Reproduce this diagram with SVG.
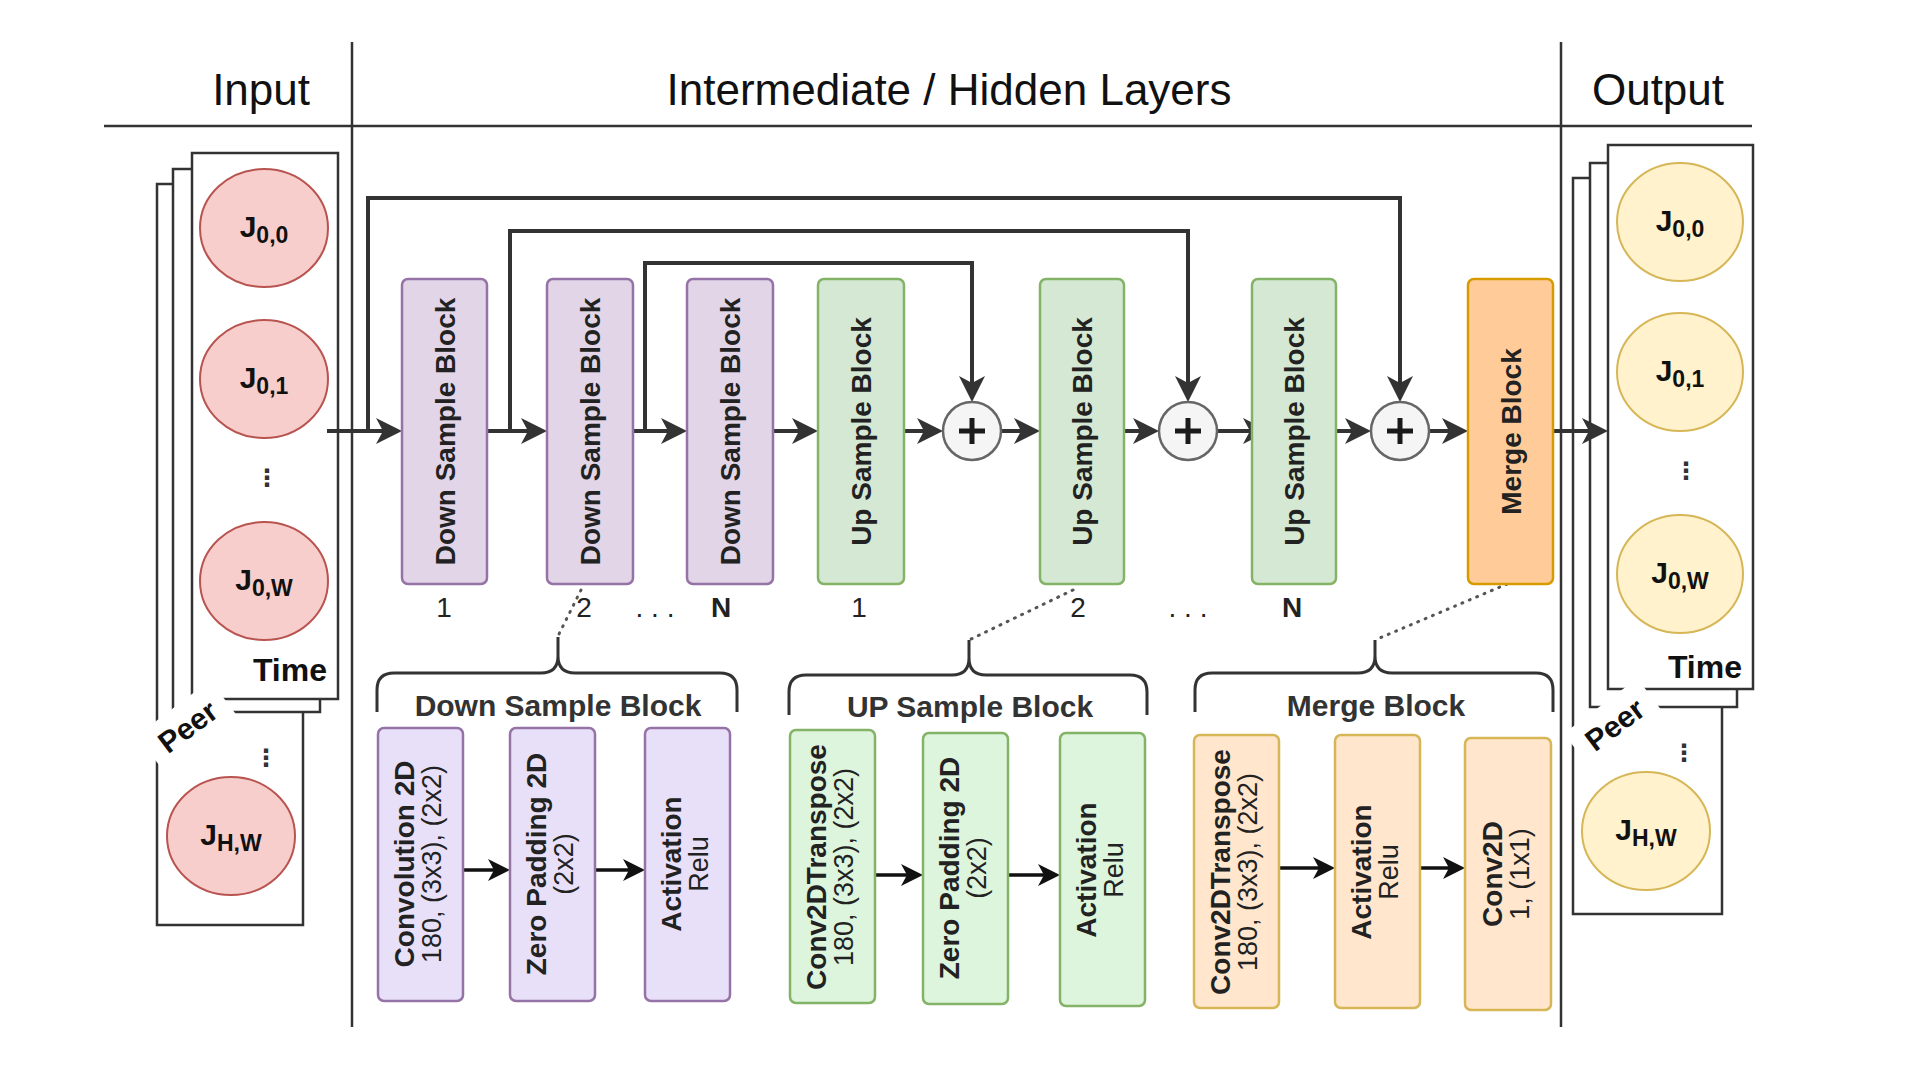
<svg xmlns="http://www.w3.org/2000/svg" width="1924" height="1076" viewBox="0 0 1924 1076">
<defs>
<style>
text{font-family:"Liberation Sans",Arial,Helvetica,sans-serif;fill:#222}
.hdr{font-size:44px;fill:#111}
.lbl{font-size:28px;font-weight:bold;text-anchor:middle}
.bl{font-size:28px;font-weight:bold;text-anchor:middle}
.rg{font-size:27px;text-anchor:middle}
.num{font-size:28px;text-anchor:middle}
.bnum{font-size:28px;font-weight:bold;text-anchor:middle}
.blab{font-size:30px;font-weight:bold;text-anchor:middle;fill:#333}
.frame{fill:#fff;stroke:#333;stroke-width:2.5}
.rule{stroke:#333;stroke-width:2.5;fill:none}
.inC{fill:#f8cecc;stroke:#b85450;stroke-width:2}
.outC{fill:#fff2cc;stroke:#d6b656;stroke-width:2}
.dn{fill:#e1d5e7;stroke:#9673a6;stroke-width:2.5}
.up{fill:#d5e8d4;stroke:#82b366;stroke-width:2.5}
.mg{fill:#ffcc99;stroke:#d79b00;stroke-width:2.5}
.dns{fill:#e8e0f8;stroke:#9673a6;stroke-width:2.5}
.ups{fill:#dcf5dc;stroke:#82b366;stroke-width:2.5}
.mgs{fill:#ffe6cc;stroke:#d6b656;stroke-width:2.5}
.flow{fill:none;stroke:#333;stroke-width:4;marker-end:url(#ah)}
.small{fill:none;stroke:#111;stroke-width:3.5;marker-end:url(#ahs)}
.dot{fill:none;stroke:#555;stroke-width:3;stroke-dasharray:1 7;stroke-linecap:round}
.brace{fill:none;stroke:#333;stroke-width:3}
.jl{font-size:30px;font-weight:bold;text-anchor:middle;fill:#111}
.js{font-size:23px}
.tl{font-size:32px;font-weight:bold;text-anchor:end;fill:#111}
.pr{font-size:30px;font-weight:bold;text-anchor:middle;fill:#111}
.vd{font-family:"DejaVu Sans",sans-serif;font-size:24px;font-weight:bold;text-anchor:middle;fill:#333}
.plus{fill:#f5f5f5;stroke:#666;stroke-width:2.5}
.pl{stroke:#1a1a1a;stroke-width:5;fill:none}
</style>
<marker id="ah" markerUnits="userSpaceOnUse" markerWidth="28" markerHeight="26" refX="16" refY="13" orient="auto"><path d="M0,0 L26,13 L0,26 L7,13 Z" fill="#333"/></marker>
<marker id="ahs" markerUnits="userSpaceOnUse" markerWidth="24" markerHeight="22" refX="13" refY="11" orient="auto"><path d="M0,0 L22,11 L0,22 L6,11 Z" fill="#111"/></marker>
</defs>
<rect width="1924" height="1076" fill="#fff"/>

<g id="header">
<line class="rule" x1="104" y1="126" x2="1752" y2="126"/>
<line class="rule" x1="352" y1="42" x2="352" y2="1027"/>
<line class="rule" x1="1561" y1="42" x2="1561" y2="1027"/>
<text class="hdr" x="310" y="105" text-anchor="end">Input</text>
<text class="hdr" x="949" y="105" text-anchor="middle">Intermediate / Hidden Layers</text>
<text class="hdr" x="1658" y="105" text-anchor="middle">Output</text>
</g>

<g id="input-stack">
<rect class="frame" x="157" y="184" width="146" height="741"/>
<rect class="frame" x="173" y="169" width="147" height="543"/>
<rect class="frame" x="192" y="153" width="146" height="546"/>
<ellipse class="inC" cx="264" cy="228" rx="64" ry="59"/>
<text class="jl" x="264" y="237">J<tspan class="js" dy="6">0,0</tspan></text>
<ellipse class="inC" cx="264" cy="379" rx="64" ry="59"/>
<text class="jl" x="264" y="388">J<tspan class="js" dy="6">0,1</tspan></text>
<text class="vd" x="267" y="486">⋮</text>
<ellipse class="inC" cx="264" cy="581" rx="64" ry="59"/>
<text class="jl" x="264" y="590">J<tspan class="js" dy="6">0,W</tspan></text>
<text class="tl" x="327" y="681">Time</text>
<g transform="translate(188,727) rotate(-37)">
<rect x="-46" y="-24" width="92" height="42" fill="#fff"/>
<text class="pr" x="0" y="10">Peer</text>
</g>
<text class="vd" x="266" y="766">⋮</text>
<ellipse class="inC" cx="231" cy="836" rx="64" ry="59"/>
<text class="jl" x="231" y="845">J<tspan class="js" dy="6">H,W</tspan></text>
</g>

<g id="output-stack">
<rect class="frame" x="1573" y="178" width="149" height="736"/>
<rect class="frame" x="1590" y="163" width="147" height="544"/>
<rect class="frame" x="1608" y="145" width="145" height="544"/>
<ellipse class="outC" cx="1680" cy="222" rx="63" ry="59"/>
<text class="jl" x="1680" y="231">J<tspan class="js" dy="6">0,0</tspan></text>
<ellipse class="outC" cx="1680" cy="372" rx="63" ry="59"/>
<text class="jl" x="1680" y="381">J<tspan class="js" dy="6">0,1</tspan></text>
<text class="vd" x="1686" y="479">⋮</text>
<ellipse class="outC" cx="1680" cy="574" rx="63" ry="59"/>
<text class="jl" x="1680" y="583">J<tspan class="js" dy="6">0,W</tspan></text>
<text class="tl" x="1742" y="678">Time</text>
<g transform="translate(1615,725) rotate(-37)">
<rect x="-46" y="-24" width="92" height="42" fill="#fff"/>
<text class="pr" x="0" y="10">Peer</text>
</g>
<text class="vd" x="1684" y="761">⋮</text>
<ellipse class="outC" cx="1646" cy="831" rx="64" ry="59"/>
<text class="jl" x="1646" y="840">J<tspan class="js" dy="6">H,W</tspan></text>
</g>

<g id="connectors">
<path class="flow" d="M327,431 H392"/>
<path class="flow" d="M487,431 H537"/>
<path class="flow" d="M633,431 H677"/>
<path class="flow" d="M773,431 H808"/>
<path class="flow" d="M904,431 H933"/>
<path class="flow" d="M1001,431 H1030"/>
<path class="flow" d="M1124,431 H1149"/>
<path class="flow" d="M1217,431 H1259"/>
<path class="flow" d="M1336,431 H1361"/>
<path class="flow" d="M1429,431 H1458"/>
<path class="flow" d="M1553,431 H1598"/>
<path class="flow" d="M368,431 V198 H1400 V392"/>
<path class="flow" d="M510,431 V231 H1188 V392"/>
<path class="flow" d="M645,431 V263 H972 V392"/>
<path class="small" d="M463,870 H501"/>
<path class="small" d="M595,870 H636"/>
<path class="small" d="M875,875 H914"/>
<path class="small" d="M1008,875 H1051"/>
<path class="small" d="M1279,868 H1326"/>
<path class="small" d="M1420,868 H1456"/>
<path class="dot" d="M581,590 L558,636"/>
<path class="dot" d="M1073,590 L969,640"/>
<path class="dot" d="M1507,584 L1375,640"/>
</g>

<g id="down1"><rect class="dn" x="402" y="279" width="85" height="305" rx="6"/><text class="lbl" transform="translate(444.5,431.5) rotate(-90)" y="10">Down Sample Block</text></g>
<g id="down2"><rect class="dn" x="547" y="279" width="86" height="305" rx="6"/><text class="lbl" transform="translate(590,431.5) rotate(-90)" y="10">Down Sample Block</text></g>
<g id="downN"><rect class="dn" x="687" y="279" width="86" height="305" rx="6"/><text class="lbl" transform="translate(730,431.5) rotate(-90)" y="10">Down Sample Block</text></g>
<g id="up1"><rect class="up" x="818" y="279" width="86" height="305" rx="6"/><text class="lbl" transform="translate(861,431.5) rotate(-90)" y="10">Up Sample Block</text></g>
<g id="up2"><rect class="up" x="1040" y="279" width="84" height="305" rx="6"/><text class="lbl" transform="translate(1082,431.5) rotate(-90)" y="10">Up Sample Block</text></g>
<g id="upN"><rect class="up" x="1252" y="279" width="84" height="305" rx="6"/><text class="lbl" transform="translate(1294,431.5) rotate(-90)" y="10">Up Sample Block</text></g>
<g id="merge"><rect class="mg" x="1468" y="279" width="85" height="305" rx="6"/><text class="lbl" transform="translate(1510.5,431.5) rotate(-90)" y="10">Merge Block</text></g>

<g id="plus1"><circle class="plus" cx="972" cy="431" r="29"/><path class="pl" d="M959,431 H985 M972,418 V444"/></g>
<g id="plus2"><circle class="plus" cx="1188" cy="431" r="29"/><path class="pl" d="M1175,431 H1201 M1188,418 V444"/></g>
<g id="plus3"><circle class="plus" cx="1400" cy="431" r="29"/><path class="pl" d="M1387,431 H1413 M1400,418 V444"/></g>

<g id="indices">
<text class="num" x="444" y="617">1</text>
<text class="num" x="584" y="617">2</text>
<text class="num" x="655" y="617">. . .</text>
<text class="bnum" x="721" y="617">N</text>
<text class="num" x="859" y="617">1</text>
<text class="num" x="1078" y="617">2</text>
<text class="num" x="1188" y="617">. . .</text>
<text class="bnum" x="1292" y="617">N</text>
</g>

<g id="brace-down">
<path class="brace" d="M377,712 V690 Q377,673 394,673 H541 Q558,673 558,656 V637 M558,656 Q558,673 575,673 H720 Q737,673 737,690 V712"/>
<text class="blab" x="558" y="716">Down Sample Block</text>
</g>
<g id="brace-up">
<path class="brace" d="M789,715 V692 Q789,675 806,675 H952 Q969,675 969,658 V640 M969,658 Q969,675 986,675 H1130 Q1147,675 1147,692 V715"/>
<text class="blab" x="970" y="717">UP Sample Block</text>
</g>
<g id="brace-merge">
<path class="brace" d="M1195,712 V690 Q1195,673 1212,673 H1358 Q1375,673 1375,656 V640 M1375,656 Q1375,673 1392,673 H1536 Q1553,673 1553,690 V712"/>
<text class="blab" x="1376" y="716">Merge Block</text>
</g>

<g id="ds-conv"><rect class="dns" x="378" y="728" width="85" height="273" rx="6"/><g transform="translate(420,864) rotate(-90)"><text class="bl" y="-6">Convolution 2D</text><text class="rg" y="21">180, (3x3), (2x2)</text></g></g>
<g id="ds-pad"><rect class="dns" x="510" y="728" width="85" height="273" rx="6"/><g transform="translate(552,864) rotate(-90)"><text class="bl" y="-6">Zero Padding 2D</text><text class="rg" y="21">(2x2)</text></g></g>
<g id="ds-act"><rect class="dns" x="645" y="728" width="85" height="273" rx="6"/><g transform="translate(687,864) rotate(-90)"><text class="bl" y="-6">Activation</text><text class="rg" y="21">Relu</text></g></g>

<g id="us-conv"><rect class="ups" x="790" y="730" width="85" height="273" rx="6"/><g transform="translate(832,867) rotate(-90)"><text class="bl" y="-6">Conv2DTranspose</text><text class="rg" y="21">180, (3x3), (2x2)</text></g></g>
<g id="us-pad"><rect class="ups" x="923" y="733" width="85" height="271" rx="6"/><g transform="translate(965,868) rotate(-90)"><text class="bl" y="-6">Zero Padding 2D</text><text class="rg" y="21">(2x2)</text></g></g>
<g id="us-act"><rect class="ups" x="1060" y="733" width="85" height="273" rx="6"/><g transform="translate(1102,870) rotate(-90)"><text class="bl" y="-6">Activation</text><text class="rg" y="21">Relu</text></g></g>

<g id="mb-conv"><rect class="mgs" x="1194" y="735" width="85" height="273" rx="6"/><g transform="translate(1236,872) rotate(-90)"><text class="bl" y="-6">Conv2DTranspose</text><text class="rg" y="21">180, (3x3), (2x2)</text></g></g>
<g id="mb-act"><rect class="mgs" x="1335" y="735" width="85" height="273" rx="6"/><g transform="translate(1377,872) rotate(-90)"><text class="bl" y="-6">Activation</text><text class="rg" y="21">Relu</text></g></g>
<g id="mb-conv1"><rect class="mgs" x="1465" y="738" width="86" height="272" rx="6"/><g transform="translate(1508,874) rotate(-90)"><text class="bl" y="-6">Conv2D</text><text class="rg" y="21">1, (1x1)</text></g></g>
</svg>
